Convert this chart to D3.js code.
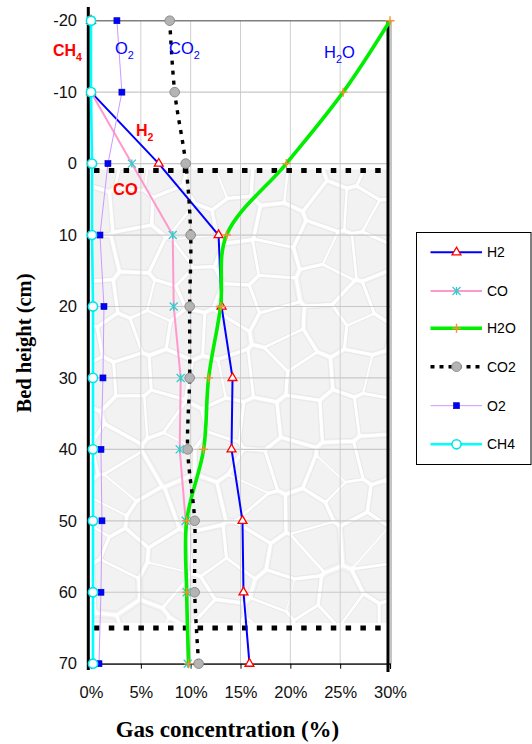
<!DOCTYPE html>
<html><head><meta charset="utf-8">
<script src="https://cdn.jsdelivr.net/npm/d3@7"></script>
<style>body{margin:0;background:#fff} svg{display:block}</style>
</head><body><svg id="c" width="532" height="744"></svg>
<script>
// ---- data ----
const heights = [-20,-10,0,10,20,30,40,50,60,70];
const H2  = [0,0,6.8,12.8,13.1,14.2,14.1,15.2,15.3,15.9];
const CO  = [0,0,4.1,8.2,8.3,9.0,8.9,9.5,9.6,9.7];
const H2O = [30.0,25.3,19.6,13.6,13.0,11.8,11.3,9.6,9.6,9.8];
const CO2 = [7.9,8.4,9.5,10.0,9.9,9.9,9.7,10.4,10.4,10.8];
const O2  = [2.6,3.1,1.7,0.9,1.3,1.2,1.0,1.1,1.0,0.8];
const CH4 = [0,0,0.1,0.1,0.2,0.2,0.2,0.2,0.2,0.2];
const xTicks = [0,5,10,15,20,25,30];
const yTicks = [-20,-10,0,10,20,30,40,50,60,70];
const seriesNames = ["H2","CO","H2O","CO2","O2","CH4"];
const bedTop = 0, bedBottom = 65;

// ---- setup ----
const svg = d3.select("#c");
const x = d3.scaleLinear().domain([0,30]).range([91,390]);
const y = d3.scaleLinear().domain([-20,70]).range([20.7,663.7]);
const SANS = "'Liberation Sans', Arial, sans-serif";
const SERIF = "'Liberation Serif', 'Times New Roman', serif";

// ---- bed texture (decorative) ----
const tx0 = x(0)+1, tx1 = x(30)-2, ty0 = y(bedTop)+6, ty1 = y(bedBottom)-5;
svg.append("clipPath").attr("id","bedclip").append("rect")
  .attr("x",tx0).attr("y",ty0).attr("width",tx1-tx0).attr("height",ty1-ty0);
const tex = svg.append("g").attr("clip-path","url(#bedclip)");
tex.append("rect").attr("x",tx0).attr("y",ty0).attr("width",tx1-tx0).attr("height",ty1-ty0).attr("fill","#ffffff");
function fr(v){ const s = Math.sin(v)*43758.5453; return s - Math.floor(s); }
const pts = [];
let k = 0;
for (let gy = ty0-40; gy < ty1+50; gy += 42) {
  for (let gx = tx0-40; gx < tx1+50; gx += 36) {
    k++;
    pts.push([gx + (fr(k*12.9898)-0.5)*30 + ((gy/42)%2)*12, gy + (fr(k*78.233)-0.5)*30]);
  }
}
const vor = d3.Delaunay.from(pts).voronoi([tx0-50, ty0-50, tx1+50, ty1+50]);
tex.append("g").selectAll("path").data(pts.map((p,i)=>i)).join("path")
  .attr("d", i => vor.renderCell(i))
  .attr("fill","#f2f2f2").attr("stroke","#ffffff").attr("stroke-width",3)
  .attr("stroke-linejoin","round");
tex.append("g").selectAll("path").data(pts.map((p,i)=>i)).join("path")
  .attr("d", i => vor.renderCell(i))
  .attr("fill","none").attr("stroke","#e2e2e2").attr("stroke-width",0.7)
  .attr("transform", i => { const p = pts[i]; return `translate(${p[0]},${p[1]}) scale(0.88) translate(${-p[0]},${-p[1]})`; });

// ---- gridlines ----
svg.append("g").selectAll("line").data(xTicks.slice(1,-1)).join("line")
  .attr("x1",d=>x(d)).attr("x2",d=>x(d)).attr("y1",y(-20)).attr("y2",y(70))
  .attr("stroke","#cfcfcf").attr("stroke-width",1);
svg.append("g").selectAll("line").data(yTicks).join("line")
  .attr("x1",x(0)).attr("x2",x(30)).attr("y1",d=>y(d)).attr("y2",d=>y(d))
  .attr("stroke",(d)=> d===-20 ? "#7f7f7f" : "#c8c8c8").attr("stroke-width",d=> d===-20?1.5:1.2);
svg.append("line").attr("x1",x(30)+1).attr("x2",x(30)+1).attr("y1",y(-20)).attr("y2",y(70))
  .attr("stroke","#8a8a8a").attr("stroke-width",1);

// bed boundary dashed lines
[bedTop, bedBottom].forEach(v => {
  const yy = y(v) + (v===bedTop?7:0);
  svg.append("line").attr("x1",x(0)+3).attr("x2",x(30)-2).attr("y1",yy).attr("y2",yy)
    .attr("stroke","#000").attr("stroke-width",5).attr("stroke-dasharray","5.5,9.3");
});

// ---- axes ----
const xAxis = d3.axisBottom(x).tickValues(xTicks).tickFormat(d=>d+"%").tickSize(5).tickPadding(18);
const gx = svg.append("g").attr("transform",`translate(0,${y(70)})`).call(xAxis);
gx.select(".domain").attr("stroke","#000").attr("stroke-width",1.2);
gx.selectAll(".tick line").attr("stroke","#000");
gx.selectAll("text").attr("font-family",SANS).attr("font-size",16.5).attr("fill","#111");
const yAxis = d3.axisLeft(y).tickValues(yTicks).tickFormat(d=>String(d)).tickSize(0).tickPadding(14);
const gy = svg.append("g").attr("transform",`translate(${x(0)},0)`).call(yAxis);
gy.select(".domain").remove();
gy.selectAll("text").attr("font-family",SANS).attr("font-size",16.5).attr("fill","#111");
svg.append("line").attr("x1",88.3).attr("x2",88.3).attr("y1",7).attr("y2",670)
  .attr("stroke","#000").attr("stroke-width",3);
svg.append("line").attr("x1",388).attr("x2",388).attr("y1",20).attr("y2",672)
  .attr("stroke","#000").attr("stroke-width",3);

// ---- series ----
const st = {
  H2:  {data:H2,  color:"#0000ff", w:2,   curve:d3.curveLinear},
  CO:  {data:CO,  color:"#ff99cc", w:2,   curve:d3.curveLinear},
  H2O: {data:H2O, color:"#00ee00", w:3.6, curve:d3.curveCatmullRom.alpha(0.5)},
  CO2: {data:CO2, color:"#000000", w:3.4, curve:d3.curveCatmullRom.alpha(0.5), dash:"4,6"},
  O2:  {data:O2,  color:"#cc99ff", w:1,   curve:d3.curveLinear},
  CH4: {data:CH4, color:"#00ffff", w:2.6, curve:d3.curveLinear}
};
function marker(g, name, cx, cy){
  if (name==="H2") {
    g.append("path").attr("d", d3.symbol(d3.symbolTriangle, 34)())
      .attr("transform",`translate(${cx},${cy})`).attr("fill","#fff").attr("stroke","#ff0000").attr("stroke-width",1.3);
  } else if (name==="CO") {
    const r = 4;
    g.append("path").attr("d",`M${cx-r},${cy-r}L${cx+r},${cy+r}M${cx-r},${cy+r}L${cx+r},${cy-r}M${cx},${cy-r}L${cx},${cy+r}`)
      .attr("stroke","#33cccc").attr("stroke-width",1.3).attr("fill","none");
  } else if (name==="H2O") {
    const r = 4.5;
    g.append("path").attr("d",`M${cx-r},${cy}L${cx+r},${cy}M${cx},${cy-r}L${cx},${cy+r}`)
      .attr("stroke","#ff8c33").attr("stroke-width",1.4).attr("fill","none");
  } else if (name==="CO2") {
    g.append("circle").attr("cx",cx).attr("cy",cy).attr("r",4.8)
      .attr("fill","#b4b4b4").attr("stroke","#8c8c8c").attr("stroke-width",1);
  } else if (name==="O2") {
    const s = 6;
    g.append("rect").attr("x",cx-s/2).attr("y",cy-s/2).attr("width",s).attr("height",s)
      .attr("fill","#0000ff").attr("stroke","#0000aa").attr("stroke-width",0.6);
  } else if (name==="CH4") {
    g.append("circle").attr("cx",cx).attr("cy",cy).attr("r",4.6)
      .attr("fill","#fff").attr("stroke","#00e5e5").attr("stroke-width",1.6);
  }
}
const series = svg.append("g");
seriesNames.forEach(name => {
  const s = st[name];
  const pairs = heights.map((h,i)=>[s.data[i], h]);
  const line = d3.line().x(d=>x(d[0])).y(d=>y(d[1])).curve(s.curve);
  const g = series.append("g");
  g.append("path").attr("d", line(pairs)).attr("fill","none")
    .attr("stroke", s.color).attr("stroke-width", s.w)
    .attr("stroke-dasharray", s.dash||null).attr("stroke-linejoin","round");
  pairs.forEach(p => marker(g, name, x(p[0]), y(p[1])));
});

// ---- in-chart labels ----
function label(txt, sub, rest, px, py, color, bold, size){
  const t = svg.append("text").attr("x",px).attr("y",py).attr("font-family",SANS)
    .attr("font-size",size).attr("font-weight",bold?"bold":"normal").attr("fill",color);
  t.append("tspan").text(txt);
  t.append("tspan").attr("font-size",size*0.66).attr("dy",size*0.3).text(sub);
  if (rest) t.append("tspan").attr("dy",-size*0.3).attr("font-size",size).text(rest);
}
label("CH","4","",53,56,"#ff0000",true,16);
label("O","2","",115,54,"#0000ff",false,16.5);
label("CO","2","",169,54,"#0000ff",false,16.5);
label("H","2","O",324,58,"#0000ff",false,16.5);
label("H","2","",136,136,"#ff0000",true,16);
svg.append("text").attr("x",113).attr("y",195).attr("font-family",SANS).attr("font-size",16.5)
  .attr("font-weight","bold").attr("fill","#ff0000").text("CO");

// ---- axis titles ----
svg.append("text").attr("transform","translate(31,343) rotate(-90)").attr("text-anchor","middle")
  .attr("font-family",SERIF).attr("font-weight","bold").attr("font-size",20.5).attr("fill","#000")
  .text("Bed height (cm)");
svg.append("text").attr("x",227.5).attr("y",737).attr("text-anchor","middle")
  .attr("font-family",SERIF).attr("font-weight","bold").attr("font-size",23).attr("fill","#000")
  .text("Gas concentration (%)");

// ---- legend ----
const lg = svg.append("g");
lg.append("rect").attr("x",416.5).attr("y",232.5).attr("width",114.5).attr("height",232)
  .attr("fill","#fff").attr("stroke","#000").attr("stroke-width",1);
const legY = [252.3,291,328.3,366.7,405.7,444.3];
seriesNames.forEach((name,i) => {
  const s = st[name];
  const yy = legY[i];
  lg.append("line").attr("x1",430.5).attr("x2",482).attr("y1",yy).attr("y2",yy)
    .attr("stroke",s.color).attr("stroke-width",s.w).attr("stroke-dasharray", s.dash?"4,5":null);
  marker(lg, name, 456.5, yy);
  lg.append("text").attr("x",487).attr("y",yy+5).attr("font-family",SANS).attr("font-size",14)
    .attr("fill","#000").text(name);
});
</script></body></html>
